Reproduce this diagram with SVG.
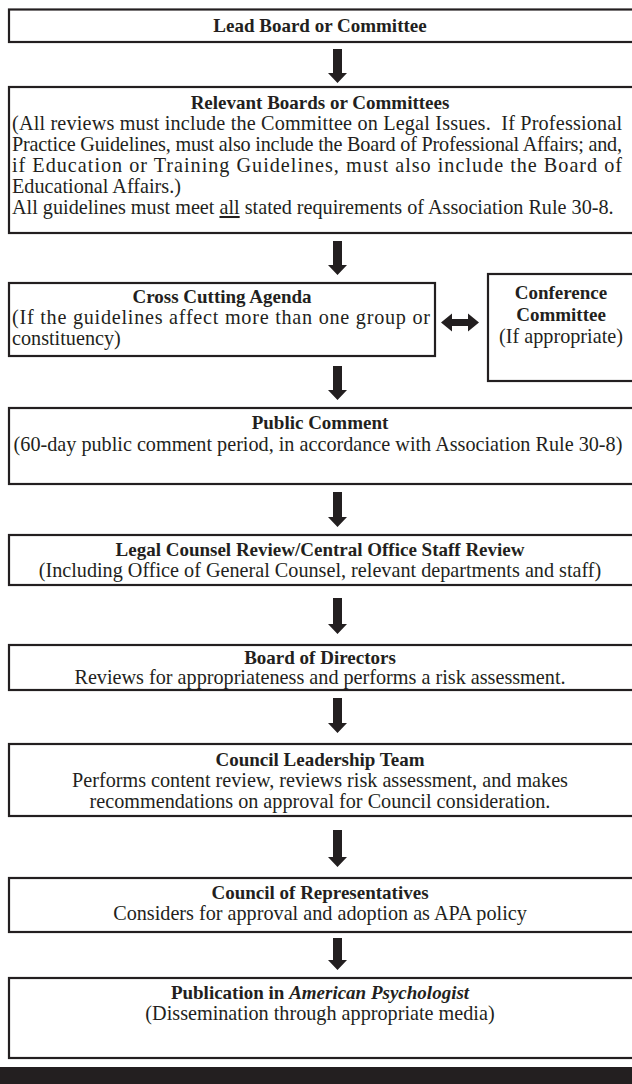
<svg xmlns="http://www.w3.org/2000/svg" width="632" height="1084" viewBox="0 0 632 1084">
<style>
.box{fill:#fff;stroke:#231f20;stroke-width:2.2}
.t{font-family:"Liberation Serif","Times New Roman",serif;font-size:19px;font-weight:bold;fill:#231f20;text-anchor:middle}
.b{font-family:"Liberation Serif","Times New Roman",serif;font-size:20.2px;fill:#231f20;text-anchor:middle}
.l{font-family:"Liberation Serif","Times New Roman",serif;font-size:20.2px;fill:#231f20;white-space:pre}
.arr{fill:#231f20}
</style>
<rect width="632" height="1084" fill="#fff"/>
<g id="lead">
<rect class="box" x="9" y="9.5" width="640" height="32.5"/>
<text class="t" x="320" y="32">Lead Board or Committee</text>
</g>
<g id="relevant">
<rect class="box" x="9" y="87" width="640" height="146"/>
<text class="t" x="320" y="109">Relevant Boards or Committees</text>
<text class="l" x="12" y="130" textLength="610" lengthAdjust="spacing">(All reviews must include the Committee on Legal Issues.  If Professional</text>
<text class="l" x="12" y="151" textLength="610" lengthAdjust="spacing">Practice Guidelines, must also include the Board of Professional Affairs; and,</text>
<text class="l" x="12" y="172" textLength="610" lengthAdjust="spacing">if Education or Training Guidelines, must also include the Board of</text>
<text class="l" x="12" y="193">Educational Affairs.)</text>
<text class="l" x="12" y="214">All guidelines must meet <tspan text-decoration="underline">all</tspan> stated requirements of Association Rule 30-8.</text>
</g>
<g id="crosscutting">
<rect class="box" x="9" y="283" width="426" height="73"/>
<text class="t" x="222" y="303">Cross Cutting Agenda</text>
<text class="l" x="12" y="324" textLength="418" lengthAdjust="spacing">(If the guidelines affect more than one group or</text>
<text class="l" x="12" y="345">constituency)</text>
</g>
<g id="conference">
<rect class="box" x="488" y="274" width="146" height="107"/>
<text class="t" x="561" y="299">Conference</text>
<text class="t" x="561" y="321">Committee</text>
<text class="b" x="561" y="343">(If appropriate)</text>
</g>
<g id="public">
<rect class="box" x="9" y="408" width="640" height="76"/>
<text class="t" x="320" y="429">Public Comment</text>
<text class="b" x="318" y="451">(60-day public comment period, in accordance with Association Rule 30-8)</text>
</g>
<g id="legal">
<rect class="box" x="9" y="535" width="640" height="50"/>
<text class="t" x="320" y="556">Legal Counsel Review/Central Office Staff Review</text>
<text class="b" x="320" y="577">(Including Office of General Counsel, relevant departments and staff)</text>
</g>
<g id="board">
<rect class="box" x="9" y="645" width="640" height="45"/>
<text class="t" x="320" y="664">Board of Directors</text>
<text class="b" x="320" y="684">Reviews for appropriateness and performs a risk assessment.</text>
</g>
<g id="leadership">
<rect class="box" x="9" y="744" width="640" height="72"/>
<text class="t" x="320" y="766">Council Leadership Team</text>
<text class="b" x="320" y="787">Performs content review, reviews risk assessment, and makes</text>
<text class="b" x="320" y="808">recommendations on approval for Council consideration.</text>
</g>
<g id="representatives">
<rect class="box" x="9" y="878" width="640" height="54"/>
<text class="t" x="320" y="899">Council of Representatives</text>
<text class="b" x="320" y="920">Considers for approval and adoption as APA policy</text>
</g>
<g id="publication">
<rect class="box" x="9" y="978" width="640" height="80"/>
<text class="t" x="320" y="999">Publication in <tspan font-style="italic">American Psychologist</tspan></text>
<text class="b" x="320" y="1020">(Dissemination through appropriate media)</text>
</g>
<rect id="bar" x="0" y="1067" width="632" height="17" fill="#231f20"/>
<g id="connectors">
<path class="arr" d="M333,49 H342 V73 H347 L337.5,83 L328,73 H333 Z"/>
<path class="arr" d="M333,241 H342 V265 H347 L337.5,275 L328,265 H333 Z"/>
<path class="arr" d="M333,366 H342 V390 H347 L337.5,400 L328,390 H333 Z"/>
<path class="arr" d="M333,492 H342 V517 H347 L337.5,527 L328,517 H333 Z"/>
<path class="arr" d="M333,598 H342 V624 H347 L337.5,634 L328,624 H333 Z"/>
<path class="arr" d="M333,698 H342 V723 H347 L337.5,733 L328,723 H333 Z"/>
<path class="arr" d="M333,830 H342 V857 H347 L337.5,867 L328,857 H333 Z"/>
<path class="arr" d="M333,938 H342 V960 H347 L337.5,970 L328,960 H333 Z"/>
<path class="arr" d="M441,322.5 L452,313.5 V319 H468 V313.5 L479,322.5 L468,331.5 V326 H452 V331.5 Z"/>
</g>
</svg>
